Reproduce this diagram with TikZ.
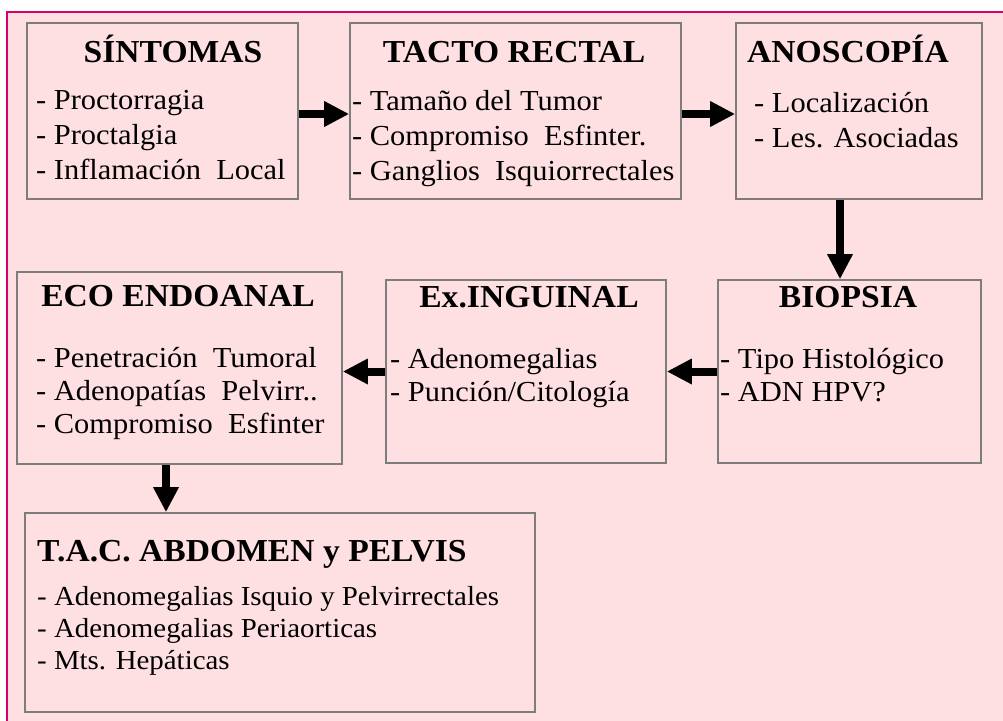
\documentclass[tikz,border=0pt]{standalone}
\usepackage{fontspec}
\setmainfont[FakeStretch=1.05]{Liberation Serif}
\usetikzlibrary{positioning, arrows.meta}
\definecolor{bgpink}{RGB}{255,224,226}
\definecolor{framemag}{RGB}{212,0,112}
\definecolor{boxgray}{RGB}{125,125,125}
\tikzset{
  stagebox/.style={draw=boxgray, line width=1.6pt, fill=bgpink, inner sep=0pt},
  stagetitle/.style={anchor=base, inner sep=0pt, font=\fontsize{32}{38}\selectfont\bfseries},
  stageitems/.style={anchor=north west, inner sep=0pt, align=left, font=\fontsize{29}{35}\selectfont},
  flowarrow/.style={line width=8pt, -{Triangle[length=25pt,width=24pt]}}
}
\begin{document}
\begin{tikzpicture}[x=1pt, y=-1pt]
\useasboundingbox (0,0) rectangle (1003,720);
\clip (0,0) rectangle (1003,720);
\fill[white] (0,0) rectangle (1003,720);
\draw[framemag, line width=2pt, fill=bgpink] (7,12) rectangle (1015,735);

\node[stagebox, minimum width=271pt, minimum height=176pt] (sint) at (162.5,111) {};
\node[stagebox, minimum width=331pt, minimum height=176pt] (tacto) at (515.5,111) {};
\node[stagebox, minimum width=246pt, minimum height=176pt] (anos) at (859,111) {};
\node[stagebox, minimum width=325pt, minimum height=192pt] (eco) at (179.5,368) {};
\node[stagebox, minimum width=280pt, minimum height=183pt] (ing) at (526,371.5) {};
\node[stagebox, minimum width=263pt, minimum height=183pt] (biop) at (849.5,371.5) {};
\node[stagebox, minimum width=510pt, minimum height=199pt] (tac) at (280,612.5) {};

\node[stagetitle] (sintT) at (173,62) {SÍNTOMAS};
\node[stagetitle] (tactoT) at (514,62) {TACTO RECTAL};
\node[stagetitle] (anosT) at (848,62) {ANOSCOPÍA};
\node[stagetitle] (ecoT) at (178,306) {ECO ENDOANAL};
\node[stagetitle] (ingT) at (529,307) {Ex.INGUINAL};
\node[stagetitle] (biopT) at (848,307) {BIOPSIA};
\node[stagetitle, anchor=base west] (tacT) at (37,561) {T.A.C. ABDOMEN y PELVIS};

\node[stageitems] (sintL) at (36,90) {- Proctorragia\\- Proctalgia\\- Inflamación\ \ Local};
\node[stageitems] (tactoL) at (352,90) {- Tamaño del Tumor\\- Compromiso\ \ Esfinter.\\- Ganglios\ \ Isquiorrectales};
\node[stageitems] (anosL) at (754,92) {- Localización\\- Les. Asociadas};
\node[stageitems, font=\fontsize{29}{33}\selectfont] (ecoL) at (36,347) {- Penetración\ \ Tumoral\\- Adenopatías\ \ Pelvirr..\\- Compromiso\ \ Esfinter};
\node[stageitems, font=\fontsize{29}{33}\selectfont] (ingL) at (390,348) {- Adenomegalias\\- Punción/Citología};
\node[stageitems, font=\fontsize{29}{33}\selectfont] (biopL) at (720,348) {- Tipo Histológico\\- ADN HPV?};
\node[stageitems, font=\fontsize{27.5}{32}\selectfont] (tacL) at (37,586) {- Adenomegalias Isquio y Pelvirrectales\\- Adenomegalias Periaorticas\\- Mts. Hepáticas};

\draw[flowarrow] ([yshift=-3pt]sint.east) -- ([yshift=-3pt]tacto.west);
\draw[flowarrow] ([yshift=-3pt]tacto.east) -- ([yshift=-3pt]anos.west);
\draw[flowarrow] ([xshift=-19pt]anos.south) -- ([xshift=-19pt]anos.south |- biop.north);
\draw[flowarrow] (biop.west) -- (ing.east);
\draw[flowarrow] (ing.west) -- (ing.west -| eco.east);
\draw[flowarrow] ([xshift=-13.5pt]eco.south) -- ([xshift=-13.5pt]eco.south |- tac.north);
\end{tikzpicture}
\end{document}
